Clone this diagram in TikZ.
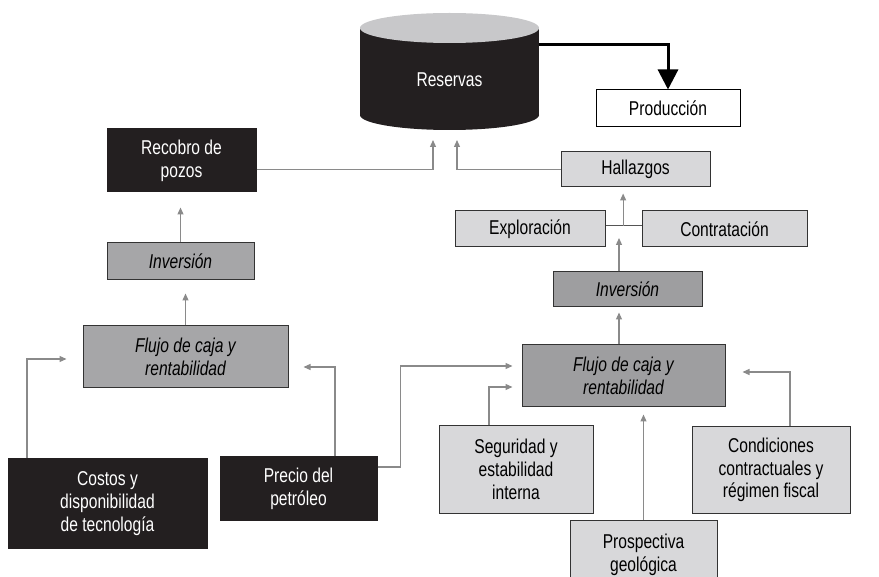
\documentclass[tikz,border=0pt]{standalone}
\usepackage{fontspec}
\setmainfont{Liberation Sans}[FakeStretch=0.78]
\usetikzlibrary{arrows.meta,calc}
\definecolor{blk}{HTML}{231F20}
\definecolor{boxline}{HTML}{333333}
\definecolor{lightg}{HTML}{D8D8DA}
\definecolor{midg}{HTML}{A6A6A8}
\definecolor{midgr}{HTML}{9E9EA0}
\definecolor{cyltop}{HTML}{C8C8CA}
\definecolor{conng}{HTML}{8A8A8A}
\definecolor{joinline}{HTML}{555555}
\begin{document}
\begin{tikzpicture}[x=1pt,y=-1pt,
  font=\fontsize{20}{22.8}\selectfont,
  sz/.style 2 args={minimum width=#1pt, minimum height=#2pt},
  box/.style={draw=boxline, line width=1pt, inner sep=0pt, align=center},
  blackbox/.style={box, fill=blk, draw=blk, text=white},
  lightbox/.style={box, fill=lightg},
  midbox/.style={box, fill=midg, font=\fontsize{20}{22.8}\selectfont\itshape},
  whitebox/.style={box, fill=white, draw=black},
  conn/.style={draw=conng, line width=1.2pt, -{Triangle[width=6pt,length=7pt]}},
  bigarrow/.style={draw=black, line width=3pt, -{Triangle[width=20pt,length=20pt]}}]
\useasboundingbox (0,0) rectangle (879,577);

% Cylinder (Reservas)
\fill[blk] (449.5,115) ellipse[x radius=89.5pt, y radius=15pt];
\fill[blk] (360,28) rectangle (539,115);
\fill[cyltop] (449.5,28) ellipse[x radius=89.5pt, y radius=15pt];
\node[text=white, inner sep=0pt] (res) at (449.5,80) {Reservas};
\coordinate (cylR) at (539,45);
\coordinate (resin1) at (433,140);
\coordinate (resin2) at (457,140);

% Boxes
\node[whitebox, sz={144}{37}] (prod) at (668,108.5) {Producción};
\node[blackbox, sz={149}{63}] (recobro) at (181.5,160.5) {Recobro de\\pozos};
\node[midbox, sz={147}{37}] (invL) at (180.5,261.5) {Inversión};
\node[midbox, sz={205}{62}] (flujoL) at (185.5,357) {Flujo de caja y\\rentabilidad};
\node[blackbox, sz={199}{89}] (costos) at (107.5,503.5) {Costos y\\disponibilidad\\de tecnología};
\node[blackbox, sz={157}{63}] (precio) at (298.5,488.5) {Precio del\\petróleo};

\node[lightbox, sz={149}{35}] (hall) at (635.5,169.5) {Hallazgos};
\node[lightbox, sz={150}{36}] (explo) at (530,229) {Exploración};
\node[lightbox, sz={165}{36}] (contra) at (724.5,229) {Contratación};
\node[midbox, fill=midgr, sz={149}{35}] (invR) at (627.5,289.5) {Inversión};
\node[midbox, fill=midgr, sz={203}{62}] (flujoR) at (623.5,376) {Flujo de caja y\\rentabilidad};
\node[lightbox, sz={154}{87}] (segur) at (516,469.5) {Seguridad y\\estabilidad\\interna};
\node[lightbox, sz={158}{86}] (condic) at (771,470) {Condiciones\\contractuales y\\régimen fiscal};
\node[lightbox, sz={147}{65}, text depth=0pt] (prosp) at (643.5,552.5) {Prospectiva\\geológica};

% Thick arrow to Producción
\draw[bigarrow] (cylR) -| (prod.north);

% Left chain
\draw[conn] (recobro.east |- hall.west) -| (resin1);
\draw[conn] (hall.west) -| (resin2);
\draw[conn, shorten >=15pt] (invL.north) -- (invL.north |- recobro.south);
\draw[conn, shorten >=13pt] (flujoL.north) -- (flujoL.north |- invL.south);
\draw[conn, shorten >=16pt] ([xshift=-80.5pt]costos.north) |- ([yshift=-2pt]flujoL.west);
\draw[conn, shorten >=15pt] ([xshift=36.5pt]precio.north) |- ([yshift=-10pt]flujoL.east);

% Right chain
\draw[conn, shorten >=9pt] ([yshift=21.5pt]precio.east) -- ++(23,0) |- ([yshift=10pt]flujoR.west);
\draw[conn, shorten >=9pt] ([xshift=-27pt]segur.north) |- ([yshift=-11pt]flujoR.west);
\draw[conn, shorten >=17pt] ([xshift=19pt]condic.north) |- ([yshift=4pt]flujoR.east);
\draw[conn, shorten >=7pt] (prosp.north) -- (prosp.north |- flujoR.south);
\draw[conn, shorten >=5pt] ([xshift=-4.5pt]flujoR.north) -- ([xshift=-4.5pt]flujoR.north |- invR.south);

\draw[draw=joinline, line width=1pt] ([yshift=3pt]explo.east) -- ([yshift=3pt]contra.west);
\path ([yshift=3pt]explo.east) -- ([yshift=3pt]contra.west) coordinate[pos=0.49] (jn);
\draw[conn, shorten >=6pt] (jn) -- (jn |- hall.south);
\draw[conn, shorten >=12pt] ([xshift=-8.5pt]invR.north) -- ([xshift=-8.5pt]invR.north |- jn);
\end{tikzpicture}
\end{document}
